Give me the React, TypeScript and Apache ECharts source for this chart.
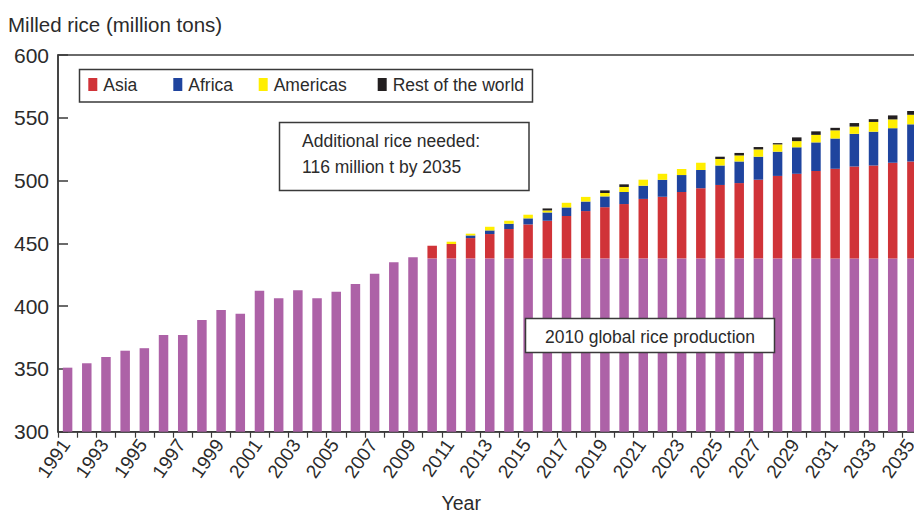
import React, { useEffect, useRef } from 'react';
import * as echarts from 'echarts';

// Categories (x axis)
const years = [
  '1991', '1992', '1993', '1994', '1995', '1996', '1997', '1998', '1999', '2000',
  '2001', '2002', '2003', '2004', '2005', '2006', '2007', '2008', '2009', '2010',
  '2011', '2012', '2013', '2014', '2015', '2016', '2017', '2018', '2019', '2020',
  '2021', '2022', '2023', '2024', '2025', '2026', '2027', '2028', '2029', '2030',
  '2031', '2032', '2033', '2034', '2035',
];

// Global milled rice production (million tons); from 2010 on held at the 2010 level
const production = [
  351, 354.5, 359.5, 364.5, 366.5, 377, 377, 389, 397, 394,
  412.3, 406.2, 412.6, 406.2, 411.5, 417.6, 425.8, 435, 439, 438,
  438, 438, 438, 438, 438, 438, 438, 438, 438, 438,
  438, 438, 438, 438, 438, 438, 438, 438, 438, 438,
  438, 438, 438, 438, 438,
];

// Additional rice needed, by region, 2010–2035
const projectionStart = '2010';
const asia = [
  10.1, 11.5, 16.2, 19.4, 23.4, 27.1, 30.0, 33.8, 37.7, 40.8,
  43.3, 47.4, 49.1, 52.9, 55.9, 58.5, 60.0, 62.7, 65.7, 67.4,
  69.6, 71.4, 73.2, 74.0, 76.2, 77.2,
];
const africa = [
  0, 0, 2.1, 2.9, 4.2, 4.8, 6.6, 6.8, 7.6, 8.6,
  9.6, 10.5, 13.5, 13.5, 14.5, 15.5, 17.2, 18.3, 19.3, 21.1,
  22.8, 24.1, 26.0, 26.9, 27.5, 29.6,
];
const americas = [
  0, 1.8, 1.4, 2.9, 2.4, 2.9, 1.6, 3.7, 3.7, 2.7,
  4.0, 4.8, 4.8, 4.8, 5.8, 5.2, 4.8, 5.8, 5.8, 4.9,
  6.0, 6.5, 5.8, 7.8, 7.0, 7.6,
];
const restOfWorld = [
  0, 0, 0, 0, 0, 0, 1.6, 0, 0, 2.1,
  2.1, 0, 0, 0, 0, 1.8, 2.0, 1.9, 1.0, 3.0,
  2.8, 2.0, 2.8, 2.2, 3.2, 3.0,
];

const regions = ['Asia', 'Africa', 'Americas', 'Rest of the world'];
const yTicks = { min: 300, max: 600, interval: 50 };

const FONT = '"Liberation Sans", Arial, sans-serif';
const TEXT = '#2b2b2b';
const LINE = '#3a3a3a';

function alignToYears(values: number[]) {
  const start = years.indexOf(projectionStart);
  return years.map((_, i) => (i < start ? null : values[i - start]));
}

export default function App() {
  const ref = useRef<HTMLDivElement>(null);

  useEffect(() => {
    if (!ref.current) return;
    const chart = echarts.init(ref.current, null, { renderer: 'svg' });

    const barBase = { type: 'bar', stack: 'total', barWidth: 9.5 };
    const legendLefts = [88.3, 173.3, 258.7, 377.7];

    chart.setOption({
      animation: false,
      title: {
        text: 'Milled rice (million tons)',
        left: 3,
        top: 9,
        textStyle: { fontFamily: FONT, fontSize: 20.5, fontWeight: 'normal', color: TEXT },
      },
      legend: regions.map((name, i) => ({
        data: [name],
        left: legendLefts[i],
        top: 75.5,
        padding: 0,
        itemWidth: 9,
        itemHeight: 13,
        icon: 'rect',
        selectedMode: false,
        textStyle: { fontFamily: FONT, fontSize: 17.5, color: TEXT, lineHeight: 13, padding: [0, 0, 0, 1] },
      })),
      grid: {
        left: 58,
        top: 55,
        width: 863.5,
        bottom: 82.3,
        outerBoundsMode: 'none',
        containLabel: false,
        show: true,
        borderColor: LINE,
        borderWidth: 1.5,
        backgroundColor: 'transparent',
      },
      xAxis: {
        type: 'category',
        data: years,
        name: 'Year',
        nameLocation: 'middle',
        nameGap: 61.5,
        nameMoveOverlap: false,
        nameTextStyle: { fontFamily: FONT, fontSize: 19.5, color: TEXT, padding: [0, 57, 0, 0] },
        axisLine: { lineStyle: { color: LINE, width: 1.5 } },
        axisTick: { show: true, interval: 0, length: 6, lineStyle: { color: LINE, width: 1.2 } },
        axisLabel: {
          interval: 1,
          rotate: 55,
          margin: 7,
          padding: [0, 3, 0, 0],
          fontFamily: FONT,
          fontSize: 19,
          color: TEXT,
        },
      },
      yAxis: {
        type: 'value',
        min: yTicks.min,
        max: yTicks.max,
        interval: yTicks.interval,
        splitLine: { show: false },
        axisLine: { show: true, lineStyle: { color: LINE, width: 1.5 } },
        axisTick: { show: true, inside: true, length: 10, lineStyle: { color: LINE, width: 1.5 } },
        axisLabel: { margin: 9, fontFamily: FONT, fontSize: 21, color: TEXT },
      },
      graphic: [
        {
          type: 'rect',
          z: 1,
          shape: { x: 79.5, y: 69.5, width: 453, height: 32.5 },
          style: { fill: '#fff', stroke: LINE, lineWidth: 1.5 },
        },
        {
          type: 'rect',
          z: 100,
          shape: { x: 279.5, y: 122.5, width: 249.5, height: 68 },
          style: { fill: '#fff', stroke: LINE, lineWidth: 1.5 },
        },
        {
          type: 'text',
          z: 101,
          x: 302,
          y: 128.6,
          style: {
            text: 'Additional rice needed:\n116 million t by 2035',
            font: `17.5px ${FONT}`,
            lineHeight: 25.7,
            fill: TEXT,
            align: 'left',
            verticalAlign: 'top',
          },
        },
        {
          type: 'rect',
          z: 100,
          shape: { x: 525.5, y: 318.5, width: 249, height: 34 },
          style: { fill: '#fff', stroke: LINE, lineWidth: 1.5 },
        },
        {
          type: 'text',
          z: 101,
          x: 650,
          y: 336.5,
          style: {
            text: '2010 global rice production',
            font: `17.5px ${FONT}`,
            fill: TEXT,
            align: 'center',
            verticalAlign: 'middle',
          },
        },
      ],
      series: [
        { ...barBase, name: '2010 global rice production', data: production, itemStyle: { color: '#AD62A7' } },
        { ...barBase, name: 'Asia', data: alignToYears(asia), itemStyle: { color: '#D03338' } },
        { ...barBase, name: 'Africa', data: alignToYears(africa), itemStyle: { color: '#1F449E' } },
        { ...barBase, name: 'Americas', data: alignToYears(americas), itemStyle: { color: '#FFEE00' } },
        { ...barBase, name: 'Rest of the world', data: alignToYears(restOfWorld), itemStyle: { color: '#231F20' } },
      ],
    });

    return () => chart.dispose();
  }, []);

  return (
    <div
      ref={ref}
      style={{ position: 'fixed', left: 0, top: 0, width: 914, height: 514, background: '#fff' }}
    />
  );
}
